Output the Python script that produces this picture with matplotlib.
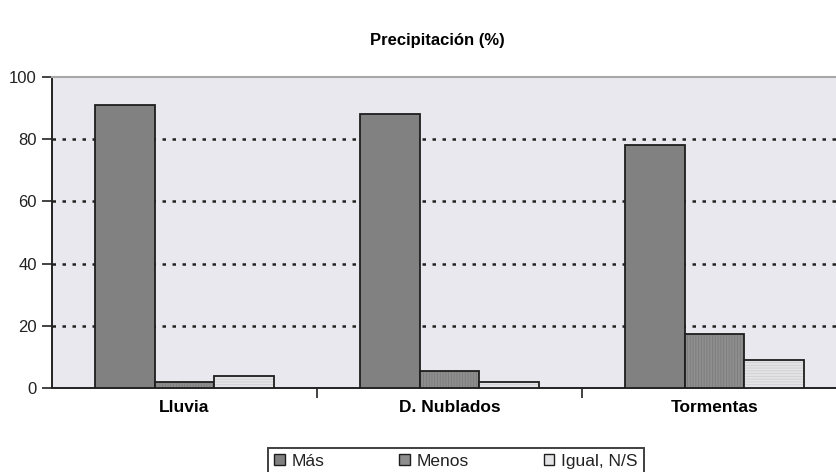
import matplotlib
matplotlib.use("Agg")
import matplotlib.pyplot as plt
import numpy as np
from matplotlib.patches import Patch

plt.rcParams['font.family'] = ['Liberation Sans', 'DejaVu Sans']

categories = ["Lluvia", "D. Nublados", "Tormentas"]
series_names = ["Más", "Menos", "Igual, N/S"]
mas = [91, 88, 78]
menos = [2, 5.5, 17.5]
igual = [4, 2, 9]
y_ticks = [0, 20, 40, 60, 80, 100]

fig = plt.figure(figsize=(8.36, 4.72), dpi=100)
ax = fig.add_axes([52/836, 84/472, 795/836, 311/472])
ax.set_facecolor("#e9e8ee")

x = np.arange(len(categories))
w = 0.224
styles = [
    dict(color="#818181", hatch=None, hc="#818181"),
    dict(color="#8e8e8e", hatch="||||||", hc="#7c7c7c"),
    dict(color="#e4e4e6", hatch="------", hc="#cfcfd2"),
]
plt.rcParams['hatch.linewidth'] = 0.6
for i, (vals, st) in enumerate(zip([mas, menos, igual], styles)):
    bars = ax.bar(x + (i - 1) * w, vals, w, color=st["color"], hatch=st["hatch"],
                  edgecolor="#1e1e1e", linewidth=1.3, zorder=3)
    for b in bars:
        b._hatch_color = matplotlib.colors.to_rgba(st["hc"])

ax.set_xlim(-0.5, 2.5)
ax.set_ylim(0, 100)
ax.set_yticks(y_ticks)
ax.set_yticklabels([str(t) for t in y_ticks], fontsize=12, color="#222222")
for t in y_ticks[1:-1]:
    ax.axhline(t, color="#222222", linestyle=(0, (1.4, 2.6)), linewidth=1.8, zorder=1)

ax.set_xticks(x)
ax.set_xticklabels(categories, fontsize=12.5, fontweight="bold")
ax.tick_params(axis="x", length=0, pad=9)
ax.set_xticks([0.5, 1.5], minor=True)
ax.tick_params(axis="x", which="minor", length=7, width=1.2, color="#222222", direction="out")
ax.tick_params(axis="y", length=7, width=1.2, color="#222222", direction="out", pad=4)

ax.spines["top"].set_color("#a8a8a8")
ax.spines["top"].set_linewidth(1.5)
ax.spines["right"].set_visible(False)
ax.spines["left"].set_color("#222222")
ax.spines["left"].set_linewidth(1.4)
ax.spines["bottom"].set_color("#222222")
ax.spines["bottom"].set_linewidth(1.4)

fig.text(437/836, 1 - 40/472, "Precipitación (%)", ha="center", va="center",
         fontsize=12, fontweight="bold")

handles = [Patch(facecolor=st["color"], edgecolor="#1e1e1e", linewidth=1.0) for st in styles]
leg = fig.legend(handles, series_names, loc="upper center", ncol=3,
                 bbox_to_anchor=(456/836, 1 - 448/472), frameon=True, fancybox=False,
                 fontsize=12.5, handlelength=0.6, handleheight=0.6, handletextpad=0.4,
                 columnspacing=4.3, borderpad=0.35, borderaxespad=0)
leg.get_frame().set_edgecolor("#111111")
leg.get_frame().set_linewidth(1.4)
for t in leg.get_texts():
    t.set_color("#222222")

fig.savefig("out.png", dpi=100)
